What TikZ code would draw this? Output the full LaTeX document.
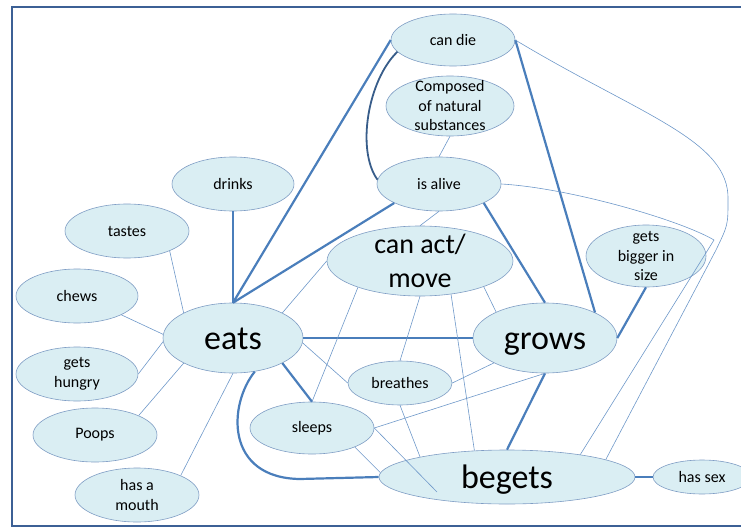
\documentclass[tikz,border=0pt]{standalone}
\usepackage{fontspec}
\setmainfont{Carlito}
\usepackage{xcolor}
\usetikzlibrary{shapes.geometric}

\definecolor{bubblefill}{HTML}{DAEEF3}
\definecolor{bubbleline}{HTML}{7F9DC4}
\definecolor{linkblue}{HTML}{4A7EBB}
\definecolor{darklink}{HTML}{385D8A}
\definecolor{framecol}{HTML}{3C6095}

\begin{document}
\begin{tikzpicture}[x=1pt, y=-1pt,
  bubble/.style={ellipse, draw=bubbleline, fill=bubblefill, line width=0.6pt,
    inner xsep=0pt, inner ysep=-8pt, align=center, text=black,
    font=\fontsize{16}{19.5}\selectfont},
  big/.style={font=\fontsize{34}{40}\selectfont, text height=22pt, text depth=0pt},
  strong/.style={draw=linkblue, line width=2.2pt},
  weak/.style={draw=linkblue!80, line width=0.6pt}]
\useasboundingbox (0,0) rectangle (741,527);
\draw[framecol, line width=2pt] (12,7) rectangle (790,526);

\node (candie) [bubble, minimum width=124pt, minimum height=52pt] at (453,40) {can die};
\node (composed) [bubble, minimum width=128pt, minimum height=60pt] at (450,106) {Composed\\of natural\\substances};
\node (isalive) [bubble, minimum width=124pt, minimum height=54pt] at (439,184) {is alive};
\node (drinks) [bubble, minimum width=122pt, minimum height=54pt] at (233,184) {drinks};
\node (tastes) [bubble, minimum width=124pt, minimum height=54pt] at (127,231) {tastes};
\node (canact) [bubble, font=\fontsize{28}{34}\selectfont, minimum width=186pt, minimum height=70pt] at (420,261) {can act/\\move};
\node (bigger) [bubble, minimum width=120pt, minimum height=62pt] at (646,256) {gets\\bigger in\\size};
\node (chews) [bubble, minimum width=122pt, minimum height=54pt] at (77,296) {chews};
\node (eats) [bubble, big, minimum width=140pt, minimum height=70pt] at (233,338) {eats};
\node (grows) [bubble, big, minimum width=144pt, minimum height=70pt] at (545,338) {grows};
\node (hungry) [bubble, minimum width=122pt, minimum height=54pt] at (77,374) {gets\\hungry};
\node (breathes) [bubble, minimum width=104pt, minimum height=44pt] at (400,383) {breathes};
\node (sleeps) [bubble, minimum width=124pt, minimum height=52pt] at (312,428) {sleeps};
\node (poops) [bubble, minimum width=124pt, minimum height=54pt] at (95,435) {Poops};
\node (mouth) [bubble, minimum width=124pt, minimum height=54pt] at (137,495) {has a\\mouth};
\node (begets) [bubble, big, minimum width=256pt, minimum height=54pt] at (507,477) {begets};
\node (hassex) [bubble, minimum width=98pt, minimum height=34pt] at (702,477) {has sex};
\coordinate (tail) at (437,492);

% strong links
\draw[strong] (candie.west) to (eats.north);
\draw[strong] (isalive.203) to (eats.north);
\draw[strong] (drinks.south) to (eats.north);
\draw[strong] (eats.east) to (grows.west);
\draw[strong] (eats.-27) to (sleeps.north);
\draw[strong] (eats.-57) .. controls (228,405) and (225,478) .. (300,479) -- (begets.west);
\draw[strong, draw=darklink, line width=1.8pt] (candie.192) .. controls (368,80) and (356,150) .. (isalive.176);
\draw[strong] (candie.east) to (grows.27);
\draw[strong] (isalive.-23) to (grows.north);
\draw[strong] (grows.east) to (bigger.south);
\draw[strong] (grows.south) to (begets.north);
\draw[strong] (begets.east) to (hassex.west);

% weak links
\draw[weak] (tastes.-25) to (eats.153);
\draw[weak] (chews.-23) to (eats.177);
\draw[weak] (hungry.east) to (eats.183);
\draw[weak] (poops.24) to (eats.207);
\draw[weak] (mouth.24) to (eats.south);
\draw[weak] (composed.south) to (isalive.north);
\draw[weak] (isalive.south) to (canact.north);
\draw[weak] (canact.west) to (eats.27);
\draw[weak] (canact.203) to (sleeps.north);
\draw[weak] (canact.south) to (breathes.north);
\draw[weak] (canact.-47) to (begets.141);
\draw[weak] (canact.-22) to (grows.152);
\draw[weak] (eats.-4) to (breathes.west);
\draw[weak] (breathes.east) to (grows.206);
\draw[weak] (breathes.south) to (begets.167);
\draw[weak] (sleeps.east) to (grows.south);
\draw[weak] (sleeps.-24) to (begets.178);
\draw[weak] (sleeps.east) to (tail);
\draw[weak] (isalive.east) .. controls (570,188) and (680,220) .. (714,240) -- (begets.17);
\draw[weak] (candie.east) .. controls (640,115) and (730,140) .. (728,200) .. controls (728,225) .. (716,250) -- (begets.10);
\end{tikzpicture}
\end{document}
